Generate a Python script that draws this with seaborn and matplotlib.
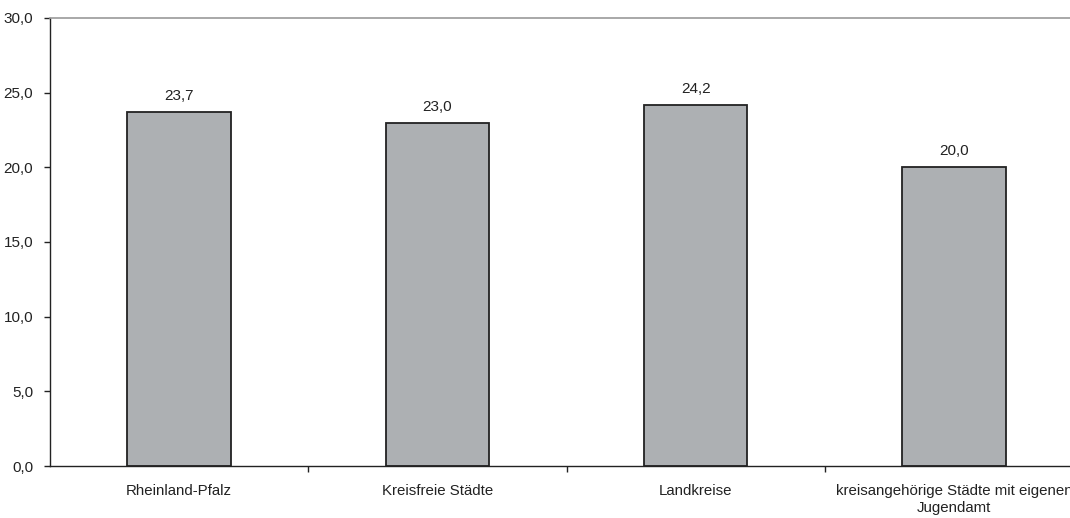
import seaborn as sns
import matplotlib.pyplot as plt
from matplotlib.ticker import FixedLocator, FuncFormatter

categories = ['Rheinland-Pfalz', 'Kreisfreie Städte', 'Landkreise',
              'kreisangehörige Städte mit eigenen\nJugendamt']
values = [23.7, 23.0, 24.2, 20.0]

sns.set_style('white')
plt.rcParams['font.family'] = ['Liberation Sans', 'DejaVu Sans']

fig = plt.figure(figsize=(10.7, 5.18), dpi=100)
ax = fig.add_axes([50 / 1070, 1 - 466 / 518, 1033 / 1070, 448 / 518])

sns.barplot(x=categories, y=values, color='#ADB0B3', saturation=1,
            edgecolor='#222222', linewidth=1.3, width=0.4, ax=ax)

for i, v in enumerate(values):
    ax.text(i, v + 0.6, f'{v:.1f}'.replace('.', ','), ha='center', va='bottom',
            fontsize=11, color='#222222')

ax.set_xlim(-0.5, 3.5)
ax.set_ylim(0, 30)
ax.set_yticks([0, 5, 10, 15, 20, 25, 30])
ax.yaxis.set_major_formatter(FuncFormatter(lambda v, p: f'{v:.1f}'.replace('.', ',')))
ax.tick_params(axis='y', direction='out', length=4, width=1, color='#222222',
               labelsize=11, labelcolor='#222222', pad=8, left=True)
ax.tick_params(axis='x', which='major', length=0, labelsize=10.8,
               labelcolor='#222222', pad=13)
ax.xaxis.set_minor_locator(FixedLocator([0.5, 1.5, 2.5]))
ax.tick_params(axis='x', which='minor', direction='out', length=4, width=1,
               color='#222222', bottom=True)
for lbl in ax.get_xticklabels():
    lbl.set_linespacing(1.3)

for s in ['left', 'bottom']:
    ax.spines[s].set_color('#222222')
    ax.spines[s].set_linewidth(1)
ax.spines['top'].set_color('#999999')
ax.spines['top'].set_linewidth(1.2)
ax.spines['right'].set_visible(False)
ax.grid(False)

fig.savefig('out.png', dpi=100)
